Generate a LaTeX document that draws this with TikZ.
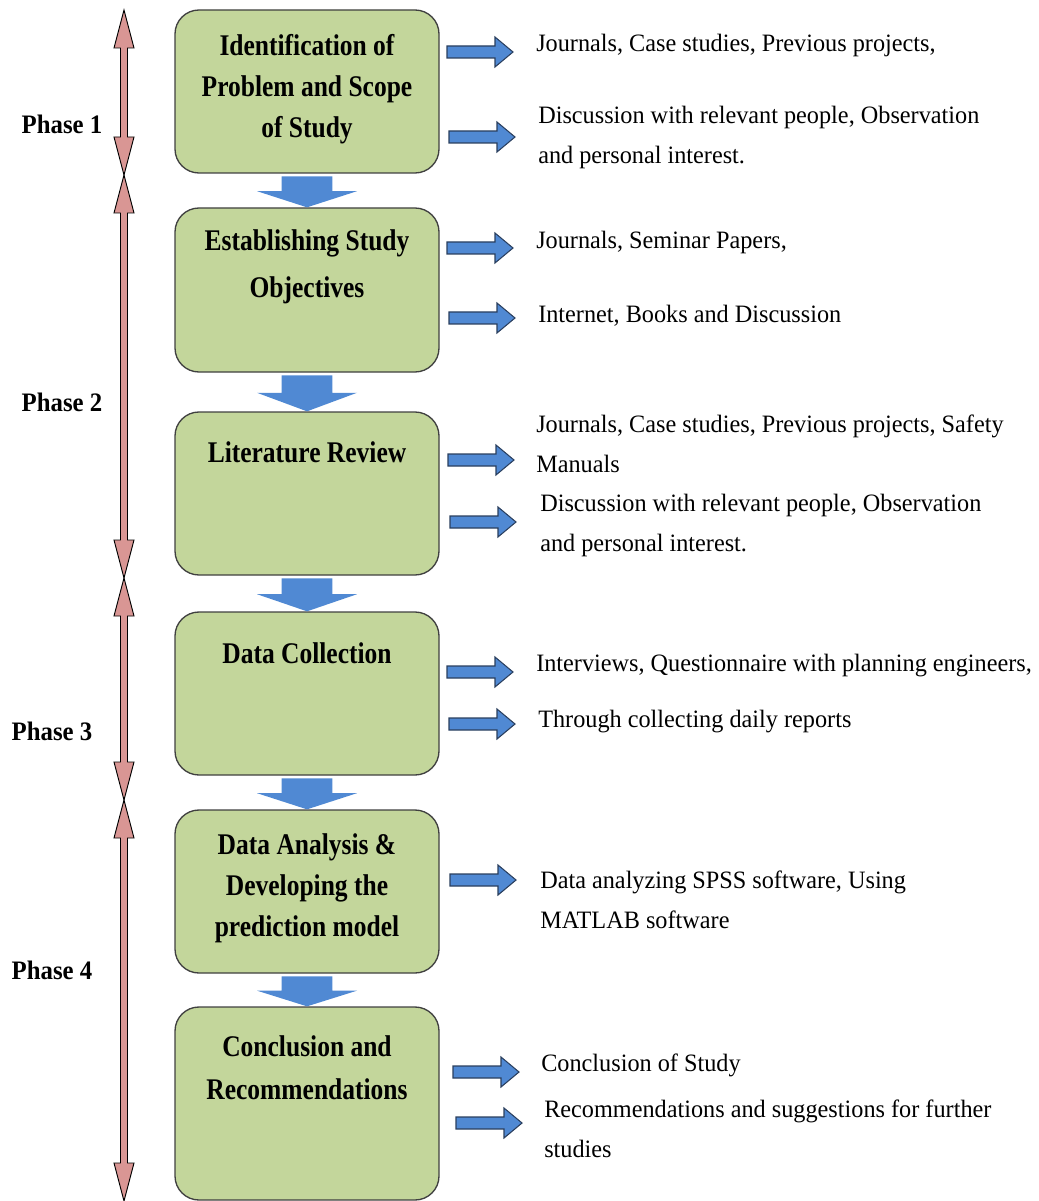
\documentclass[tikz,border=0pt]{standalone}
\usepackage{fontspec}
\setmainfont{Liberation Serif}
\newfontfamily\rtfont[FakeStretch=0.97]{Liberation Serif}
\newfontfamily\bxfont[FakeStretch=0.85]{Liberation Serif}
\newfontfamily\phfont[FakeStretch=0.93]{Liberation Serif}
\usetikzlibrary{calc}
\definecolor{boxgreen}{HTML}{C3D69B}
\definecolor{boxline}{HTML}{404040}
\definecolor{arrblue}{HTML}{5089D3}
\definecolor{arrline}{HTML}{2A3F5E}
\definecolor{phasepink}{HTML}{D99694}
\tikzset{
  stagebox/.style={draw=boxline, line width=1pt, fill=boxgreen, rounded corners=18pt,
    minimum width=198pt, inner sep=0pt},
  boxtext/.style={font=\bxfont\bfseries\fontsize{22.5}{30.75}\selectfont, align=center, inner sep=0pt},
  rtext/.style={font=\rtfont\fontsize{18.75}{30}\selectfont, align=left, anchor=west, inner sep=0pt},
  phaselbl/.style={font=\phfont\bfseries\fontsize{20}{24}\selectfont, inner sep=0pt},
  rarr/.style={draw=arrline, line width=0.8pt, fill=arrblue, line join=miter},
  darr/.style={draw=none, fill=arrblue},
  parr/.style={draw=black, line width=0.7pt, fill=phasepink, line join=miter},
}
\newcommand\rightblock[2]{\draw[rarr] (#1,#2-6) -- (#1+48,#2-6) -- (#1+48,#2-15) -- (#1+66,#2)
  -- (#1+48,#2+15) -- (#1+48,#2+6) -- (#1,#2+6) -- cycle;}
\newcommand\downblock[2]{\fill[arrblue]
  ([xshift=-19.1pt,yshift=-2pt]#1.south) -- ([xshift=19.1pt,yshift=-2pt]#1.south)
  -- ([xshift=19.1pt]$(#1.south)!0.52!(#2.north)$) -- ([xshift=37.5pt]$(#1.south)!0.52!(#2.north)$)
  -- (#2.north)
  -- ([xshift=-37.5pt]$(#1.south)!0.52!(#2.north)$) -- ([xshift=-19.1pt]$(#1.south)!0.52!(#2.north)$)
  -- cycle;}
\newcommand\phasearrow[3]{\draw[parr] (#1,#2) -- (#1+10,#2+38) -- (#1+3.5,#2+38) -- (#1+3.5,#3-38)
  -- (#1+10,#3-38) -- (#1,#3) -- (#1-10,#3-38) -- (#1-3.5,#3-38) -- (#1-3.5,#2+38)
  -- (#1-10,#2+38) -- cycle;}
\begin{document}
\begin{tikzpicture}[x=0.75pt,y=-0.75pt]
\useasboundingbox (0,0) rectangle (1038,1201);
% phase arrows
\phasearrow{124}{10}{175}
\phasearrow{124}{175}{578}
\phasearrow{124}{578}{800}
\phasearrow{124}{800}{1201}
\node[phaselbl] (p1) at (62,124) {Phase 1};
\node[phaselbl] (p2) at (62,402) {Phase 2};
\node[phaselbl] (p3) at (52,731) {Phase 3};
\node[phaselbl] (p4) at (52,970) {Phase 4};
% boxes
\node[stagebox, minimum height=122.25pt] (b1) at (307,91.5) {};
\node[stagebox, minimum height=123pt] (b2) at (307,290) {};
\node[stagebox, minimum height=122.25pt] (b3) at (307,493.5) {};
\node[stagebox, minimum height=122.25pt] (b4) at (307,693.5) {};
\node[stagebox, minimum height=122.25pt] (b5) at (307,891.5) {};
\node[stagebox, minimum height=144.75pt] (b6) at (307,1103.5) {};
\node[boxtext] (t1) at (307,89) {Identification of\\Problem and Scope\\of Study};
\node[boxtext] (t2) at (307,267) {Establishing Study\\[4.5pt]Objectives};
\node[boxtext] (t3) at (307,452) {Literature Review};
\node[boxtext] (t4) at (307,653) {Data Collection};
\node[boxtext] (t5) at (307,888) {Data Analysis \&\\Developing the\\prediction model};
\node[boxtext] (t6) at (307,1068) {Conclusion and\\[1.5pt]Recommendations};
% down arrows
\downblock{b1}{b2}
\downblock{b2}{b3}
\downblock{b3}{b4}
\downblock{b4}{b5}
\downblock{b5}{b6}
% right arrows
\rightblock{447}{52}
\rightblock{449}{137}
\rightblock{447}{248}
\rightblock{449}{318}
\rightblock{448}{460}
\rightblock{450}{522}
\rightblock{447}{672}
\rightblock{449}{724}
\rightblock{450}{880}
\rightblock{453}{1072}
\rightblock{456}{1123}
% right texts
\node[rtext] (r1a) at (536,45) {Journals, Case studies, Previous projects,};
\node[rtext] (r1b) at (538,137) {Discussion with relevant people, Observation\\and personal interest.};
\node[rtext] (r2a) at (536,242) {Journals, Seminar Papers,};
\node[rtext] (r2b) at (538,316) {Internet, Books and Discussion};
\node[rtext] (r3a) at (536,444) {Journals, Case studies, Previous projects, Safety\\Manuals};
\node[rtext] (r3b) at (540,525) {Discussion with relevant people, Observation\\and personal interest.};
\node[rtext] (r4a) at (536,666) {Interviews, Questionnaire with planning engineers,};
\node[rtext] (r4b) at (538,722) {Through collecting daily reports};
\node[rtext] (r5) at (540,900) {Data analyzing SPSS software, Using\\MATLAB software};
\node[rtext] (r6a) at (541,1065) {Conclusion of Study};
\node[rtext] (r6b) at (544,1129) {Recommendations and suggestions for further\\studies};
\end{tikzpicture}
\end{document}
